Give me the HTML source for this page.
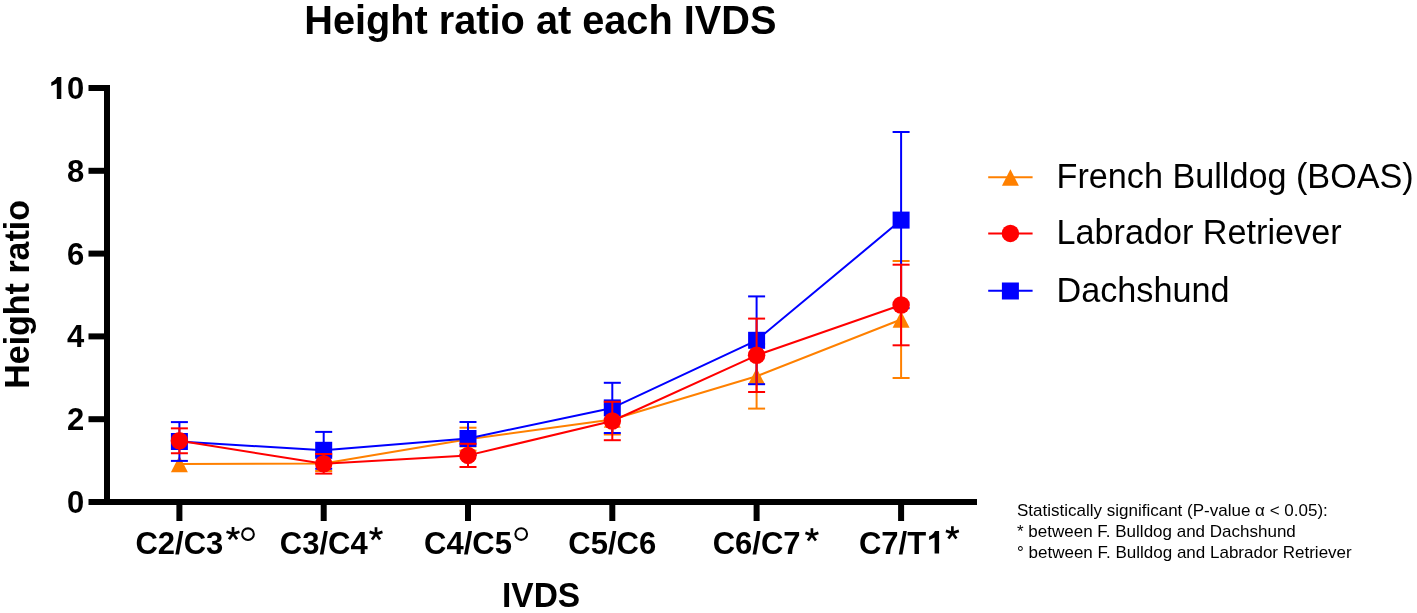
<!DOCTYPE html>
<html><head><meta charset="utf-8"><style>
html,body{margin:0;padding:0;background:#fff;}
svg{display:block;will-change:transform;}
text{font-family:"Liberation Sans",sans-serif;fill:#000;}
.b{font-weight:bold;}
.r{font-weight:normal;}
</style></head><body>
<svg width="1417" height="613" viewBox="0 0 1417 613">
<rect width="1417" height="613" fill="#fff"/>

<text transform="translate(304.3,33.9) scale(1,1.04)" class="b" font-size="39.7">Height ratio at each IVDS</text>
<text transform="translate(29,386.8) rotate(-90) scale(1,1.03)" x="-2" class="b" font-size="34">Height ratio</text>
<text transform="translate(502,607.4) scale(1,1.07)" class="b" font-size="33.5">IVDS</text>

<rect x="104" y="85" width="6" height="420" fill="#000"/>
<rect x="104" y="499" width="873" height="6" fill="#000"/>
<rect x="88.5" y="499.00" width="16" height="6" fill="#000"/>
<text x="84.2" y="513.00" text-anchor="end" class="b" font-size="31">0</text>
<rect x="88.5" y="416.20" width="16" height="6" fill="#000"/>
<text x="84.2" y="430.20" text-anchor="end" class="b" font-size="31">2</text>
<rect x="88.5" y="333.40" width="16" height="6" fill="#000"/>
<text x="84.2" y="347.40" text-anchor="end" class="b" font-size="31">4</text>
<rect x="88.5" y="250.60" width="16" height="6" fill="#000"/>
<text x="84.2" y="264.60" text-anchor="end" class="b" font-size="31">6</text>
<rect x="88.5" y="167.80" width="16" height="6" fill="#000"/>
<text x="84.2" y="181.80" text-anchor="end" class="b" font-size="31">8</text>
<rect x="88.5" y="85.00" width="16" height="6" fill="#000"/>
<text x="84.2" y="99.00" text-anchor="end" class="b" font-size="31">0</text>
<polygon points="61.30,76.90 61.30,99.00 56.80,99.00 56.80,83.50 51.30,85.90 51.30,82.30 53.60,81.10 55.60,79.30 57.20,76.90" fill="#000"/>
<rect x="176.40" y="504" width="6" height="17" fill="#000"/>
<rect x="320.70" y="504" width="6" height="17" fill="#000"/>
<rect x="465.00" y="504" width="6" height="17" fill="#000"/>
<rect x="609.30" y="504" width="6" height="17" fill="#000"/>
<rect x="753.60" y="504" width="6" height="17" fill="#000"/>
<rect x="898.10" y="504" width="6" height="17" fill="#000"/>
<text x="179.40" y="553.5" text-anchor="middle" class="b" font-size="31">C2/C3</text>
<text x="323.70" y="553.5" text-anchor="middle" class="b" font-size="31">C3/C4</text>
<text x="468.00" y="553.5" text-anchor="middle" class="b" font-size="31">C4/C5</text>
<text x="612.30" y="553.5" text-anchor="middle" class="b" font-size="31">C5/C6</text>
<text x="756.60" y="553.5" text-anchor="middle" class="b" font-size="31">C6/C7</text>
<text x="858.90" y="553.5" class="b" font-size="31">C7/T</text>
<polygon points="939.10,531.00 939.10,553.50 934.60,553.50 934.60,537.60 929.10,540.00 929.10,536.40 931.40,535.20 933.40,533.40 935.00,531.00" fill="#000"/>
<line x1="233.00" y1="533.80" x2="233.00" y2="527.00" stroke="#000" stroke-width="2.7"/><line x1="233.00" y1="533.80" x2="239.47" y2="531.70" stroke="#000" stroke-width="2.7"/><line x1="233.00" y1="533.80" x2="237.00" y2="539.30" stroke="#000" stroke-width="2.7"/><line x1="233.00" y1="533.80" x2="229.00" y2="539.30" stroke="#000" stroke-width="2.7"/><line x1="233.00" y1="533.80" x2="226.53" y2="531.70" stroke="#000" stroke-width="2.7"/><circle cx="248.00" cy="534.20" r="5.85" fill="none" stroke="#000" stroke-width="2.05"/><line x1="376.00" y1="534.00" x2="376.00" y2="527.20" stroke="#000" stroke-width="2.7"/><line x1="376.00" y1="534.00" x2="382.47" y2="531.90" stroke="#000" stroke-width="2.7"/><line x1="376.00" y1="534.00" x2="380.00" y2="539.50" stroke="#000" stroke-width="2.7"/><line x1="376.00" y1="534.00" x2="372.00" y2="539.50" stroke="#000" stroke-width="2.7"/><line x1="376.00" y1="534.00" x2="369.53" y2="531.90" stroke="#000" stroke-width="2.7"/><circle cx="521.20" cy="534.00" r="5.85" fill="none" stroke="#000" stroke-width="2.05"/><line x1="811.90" y1="535.00" x2="811.90" y2="528.20" stroke="#000" stroke-width="2.7"/><line x1="811.90" y1="535.00" x2="818.37" y2="532.90" stroke="#000" stroke-width="2.7"/><line x1="811.90" y1="535.00" x2="815.90" y2="540.50" stroke="#000" stroke-width="2.7"/><line x1="811.90" y1="535.00" x2="807.90" y2="540.50" stroke="#000" stroke-width="2.7"/><line x1="811.90" y1="535.00" x2="805.43" y2="532.90" stroke="#000" stroke-width="2.7"/><line x1="952.40" y1="533.00" x2="952.40" y2="526.20" stroke="#000" stroke-width="2.7"/><line x1="952.40" y1="533.00" x2="958.87" y2="530.90" stroke="#000" stroke-width="2.7"/><line x1="952.40" y1="533.00" x2="956.40" y2="538.50" stroke="#000" stroke-width="2.7"/><line x1="952.40" y1="533.00" x2="948.40" y2="538.50" stroke="#000" stroke-width="2.7"/><line x1="952.40" y1="533.00" x2="945.93" y2="530.90" stroke="#000" stroke-width="2.7"/>
<g><polyline points="179.40,464.00 323.70,463.50 468.00,439.20 612.30,419.50 756.60,376.30 901.10,319.50" fill="none" stroke="#FF8000" stroke-width="2" stroke-linejoin="round"/><line x1="323.70" y1="456.00" x2="323.70" y2="471.00" stroke="#FF8000" stroke-width="2"/><line x1="315.20" y1="456.00" x2="332.20" y2="456.00" stroke="#FF8000" stroke-width="2"/><line x1="315.20" y1="471.00" x2="332.20" y2="471.00" stroke="#FF8000" stroke-width="2"/><line x1="468.00" y1="427.70" x2="468.00" y2="450.70" stroke="#FF8000" stroke-width="2"/><line x1="459.50" y1="427.70" x2="476.50" y2="427.70" stroke="#FF8000" stroke-width="2"/><line x1="459.50" y1="450.70" x2="476.50" y2="450.70" stroke="#FF8000" stroke-width="2"/><line x1="612.30" y1="404.50" x2="612.30" y2="434.50" stroke="#FF8000" stroke-width="2"/><line x1="603.80" y1="404.50" x2="620.80" y2="404.50" stroke="#FF8000" stroke-width="2"/><line x1="603.80" y1="434.50" x2="620.80" y2="434.50" stroke="#FF8000" stroke-width="2"/><line x1="756.60" y1="344.00" x2="756.60" y2="408.60" stroke="#FF8000" stroke-width="2"/><line x1="748.10" y1="344.00" x2="765.10" y2="344.00" stroke="#FF8000" stroke-width="2"/><line x1="748.10" y1="408.60" x2="765.10" y2="408.60" stroke="#FF8000" stroke-width="2"/><line x1="901.10" y1="261.00" x2="901.10" y2="378.00" stroke="#FF8000" stroke-width="2"/><line x1="892.60" y1="261.00" x2="909.60" y2="261.00" stroke="#FF8000" stroke-width="2"/><line x1="892.60" y1="378.00" x2="909.60" y2="378.00" stroke="#FF8000" stroke-width="2"/><polygon points="179.40,455.75 187.90,472.25 170.90,472.25" fill="#FF8000"/><polygon points="323.70,455.25 332.20,471.75 315.20,471.75" fill="#FF8000"/><polygon points="468.00,430.95 476.50,447.45 459.50,447.45" fill="#FF8000"/><polygon points="612.30,411.25 620.80,427.75 603.80,427.75" fill="#FF8000"/><polygon points="756.60,368.05 765.10,384.55 748.10,384.55" fill="#FF8000"/><polygon points="901.10,311.25 909.60,327.75 892.60,327.75" fill="#FF8000"/></g>
<g><polyline points="179.40,441.50 323.70,450.30 468.00,438.50 612.30,407.90 756.60,340.30 901.10,220.10" fill="none" stroke="#0000FF" stroke-width="2" stroke-linejoin="round"/><line x1="179.40" y1="422.10" x2="179.40" y2="460.90" stroke="#0000FF" stroke-width="2"/><line x1="170.90" y1="422.10" x2="187.90" y2="422.10" stroke="#0000FF" stroke-width="2"/><line x1="170.90" y1="460.90" x2="187.90" y2="460.90" stroke="#0000FF" stroke-width="2"/><line x1="323.70" y1="431.90" x2="323.70" y2="468.70" stroke="#0000FF" stroke-width="2"/><line x1="315.20" y1="431.90" x2="332.20" y2="431.90" stroke="#0000FF" stroke-width="2"/><line x1="315.20" y1="468.70" x2="332.20" y2="468.70" stroke="#0000FF" stroke-width="2"/><line x1="468.00" y1="422.00" x2="468.00" y2="455.00" stroke="#0000FF" stroke-width="2"/><line x1="459.50" y1="422.00" x2="476.50" y2="422.00" stroke="#0000FF" stroke-width="2"/><line x1="459.50" y1="455.00" x2="476.50" y2="455.00" stroke="#0000FF" stroke-width="2"/><line x1="612.30" y1="382.80" x2="612.30" y2="433.00" stroke="#0000FF" stroke-width="2"/><line x1="603.80" y1="382.80" x2="620.80" y2="382.80" stroke="#0000FF" stroke-width="2"/><line x1="603.80" y1="433.00" x2="620.80" y2="433.00" stroke="#0000FF" stroke-width="2"/><line x1="756.60" y1="296.40" x2="756.60" y2="384.20" stroke="#0000FF" stroke-width="2"/><line x1="748.10" y1="296.40" x2="765.10" y2="296.40" stroke="#0000FF" stroke-width="2"/><line x1="748.10" y1="384.20" x2="765.10" y2="384.20" stroke="#0000FF" stroke-width="2"/><line x1="901.10" y1="132.00" x2="901.10" y2="308.20" stroke="#0000FF" stroke-width="2"/><line x1="892.60" y1="132.00" x2="909.60" y2="132.00" stroke="#0000FF" stroke-width="2"/><line x1="892.60" y1="308.20" x2="909.60" y2="308.20" stroke="#0000FF" stroke-width="2"/><rect x="170.90" y="433.00" width="17" height="17" fill="#0000FF"/><rect x="315.20" y="441.80" width="17" height="17" fill="#0000FF"/><rect x="459.50" y="430.00" width="17" height="17" fill="#0000FF"/><rect x="603.80" y="399.40" width="17" height="17" fill="#0000FF"/><rect x="748.10" y="331.80" width="17" height="17" fill="#0000FF"/><rect x="892.60" y="211.60" width="17" height="17" fill="#0000FF"/></g>
<g><polyline points="179.40,440.80 323.70,463.80 468.00,455.40 612.30,421.00 756.60,355.30 901.10,305.00" fill="none" stroke="#FF0000" stroke-width="2" stroke-linejoin="round"/><line x1="179.40" y1="428.35" x2="179.40" y2="453.25" stroke="#FF0000" stroke-width="2"/><line x1="170.90" y1="428.35" x2="187.90" y2="428.35" stroke="#FF0000" stroke-width="2"/><line x1="170.90" y1="453.25" x2="187.90" y2="453.25" stroke="#FF0000" stroke-width="2"/><line x1="323.70" y1="454.00" x2="323.70" y2="473.60" stroke="#FF0000" stroke-width="2"/><line x1="315.20" y1="454.00" x2="332.20" y2="454.00" stroke="#FF0000" stroke-width="2"/><line x1="315.20" y1="473.60" x2="332.20" y2="473.60" stroke="#FF0000" stroke-width="2"/><line x1="468.00" y1="443.80" x2="468.00" y2="467.00" stroke="#FF0000" stroke-width="2"/><line x1="459.50" y1="443.80" x2="476.50" y2="443.80" stroke="#FF0000" stroke-width="2"/><line x1="459.50" y1="467.00" x2="476.50" y2="467.00" stroke="#FF0000" stroke-width="2"/><line x1="612.30" y1="401.80" x2="612.30" y2="440.20" stroke="#FF0000" stroke-width="2"/><line x1="603.80" y1="401.80" x2="620.80" y2="401.80" stroke="#FF0000" stroke-width="2"/><line x1="603.80" y1="440.20" x2="620.80" y2="440.20" stroke="#FF0000" stroke-width="2"/><line x1="756.60" y1="318.60" x2="756.60" y2="392.00" stroke="#FF0000" stroke-width="2"/><line x1="748.10" y1="318.60" x2="765.10" y2="318.60" stroke="#FF0000" stroke-width="2"/><line x1="748.10" y1="392.00" x2="765.10" y2="392.00" stroke="#FF0000" stroke-width="2"/><line x1="901.10" y1="264.70" x2="901.10" y2="345.30" stroke="#FF0000" stroke-width="2"/><line x1="892.60" y1="264.70" x2="909.60" y2="264.70" stroke="#FF0000" stroke-width="2"/><line x1="892.60" y1="345.30" x2="909.60" y2="345.30" stroke="#FF0000" stroke-width="2"/><circle cx="179.40" cy="440.80" r="8.75" fill="#FF0000"/><circle cx="323.70" cy="463.80" r="8.75" fill="#FF0000"/><circle cx="468.00" cy="455.40" r="8.75" fill="#FF0000"/><circle cx="612.30" cy="421.00" r="8.75" fill="#FF0000"/><circle cx="756.60" cy="355.30" r="8.75" fill="#FF0000"/><circle cx="901.10" cy="305.00" r="8.75" fill="#FF0000"/></g>

<line x1="988.2" y1="177.3" x2="1032.6" y2="177.3" stroke="#FF8000" stroke-width="2"/><polygon points="1010.40,169.20 1018.90,185.70 1001.90,185.70" fill="#FF8000"/>
<line x1="988.2" y1="233.4" x2="1032.6" y2="233.4" stroke="#FF0000" stroke-width="2"/><circle cx="1010.40" cy="233.40" r="8.75" fill="#FF0000"/>
<line x1="988.2" y1="290.8" x2="1032.6" y2="290.8" stroke="#0000FF" stroke-width="2"/><rect x="1001.90" y="282.50" width="17" height="17" fill="#0000FF"/>
<text x="1056.5" y="188.3" class="r" font-size="34.2">French Bulldog (BOAS)</text>
<text x="1056.5" y="244.3" class="r" font-size="34.2">Labrador Retriever</text>
<text x="1056.5" y="301.7" class="r" font-size="34.2">Dachshund</text>


<text x="1017" y="516.1" class="r" font-size="17">Statistically significant (P-value α &lt; 0.05):</text>
<text x="1017" y="537" class="r" font-size="17">* between F. Bulldog and Dachshund</text>
<text x="1017" y="557.8" class="r" font-size="17">° between F. Bulldog and Labrador Retriever</text>

</svg></body></html>
